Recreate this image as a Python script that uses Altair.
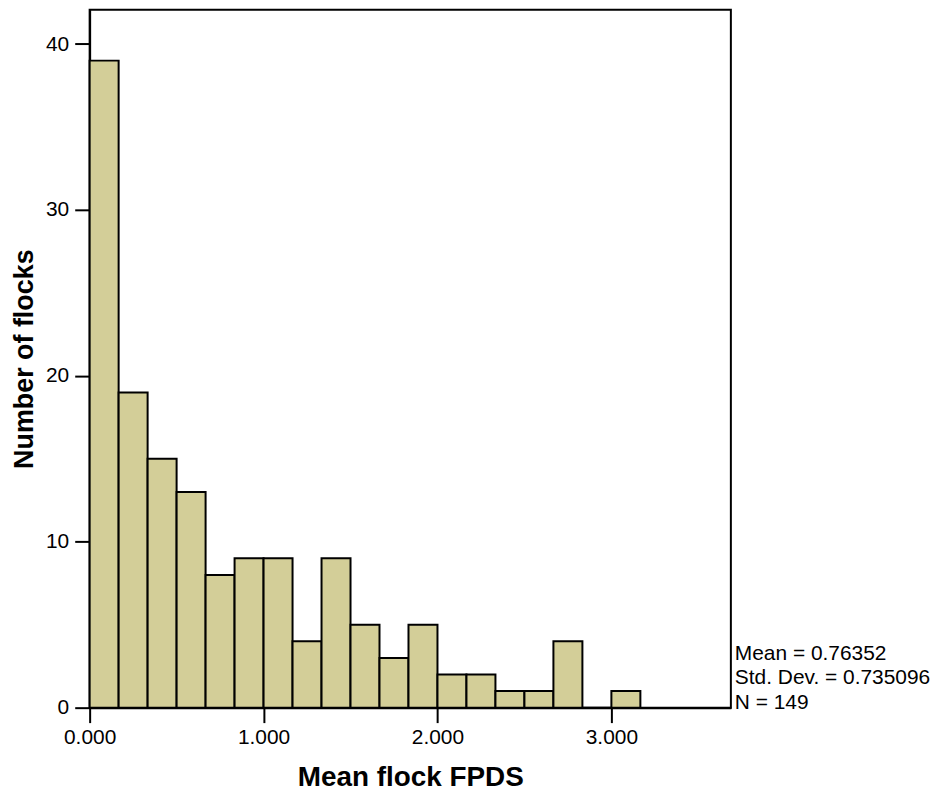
import altair as alt
import pandas as pd

# Histogram data (bin width = 1/6)
bin_width = 1.0 / 6.0
counts = [39, 19, 15, 13, 8, 9, 9, 4, 9, 5, 3, 5, 2, 2, 1, 1, 4, 0, 1]
bin_starts = [i * bin_width for i in range(len(counts))]
bin_ends = [s + bin_width for s in bin_starts]

x_ticks = [0, 1, 2, 3]
y_ticks = [0, 10, 20, 30, 40]
stats_lines = ["Mean = 0.76352", "Std. Dev. = 0.735096", "N = 149"]

df = pd.DataFrame({"start": bin_starts, "end": bin_ends, "count": counts})

W, H = 644, 701
FONT = "Liberation Sans"

x_scale = alt.Scale(domain=[0, 3.687], nice=False, zero=False)
y_scale = alt.Scale(domain=[0, 42.07], nice=False)

bars = alt.Chart(df).mark_rect(
    fill="#D3CE98", stroke="black", strokeWidth=2
).encode(
    x=alt.X("start:Q", scale=x_scale,
            axis=alt.Axis(title="Mean flock FPDS", values=x_ticks, format=".3f",
                          grid=False, tickSize=15, tickWidth=2, tickColor="black",
                          domainColor="black", domainWidth=2,
                          labelFontSize=21, labelFont=FONT, labelColor="black",
                          labelPadding=4, labelFlush=False,
                          titleFontSize=28, titleFont=FONT, titleFontWeight="bold",
                          titleColor="black", titlePadding=16)),
    x2="end:Q",
    y=alt.Y("count:Q", scale=y_scale,
            axis=alt.Axis(title="Number of flocks", values=y_ticks,
                          grid=False, tickSize=15, tickWidth=2, tickColor="black",
                          domainColor="black", domainWidth=2,
                          labelFontSize=21, labelFont=FONT, labelColor="black",
                          labelPadding=6, labelFlush=False,
                          titleFontSize=27, titleFont=FONT, titleFontWeight="bold",
                          titleColor="black", titlePadding=7)),
)

stats = alt.Chart(pd.DataFrame({"a": [0]})).mark_text(
    align="left", baseline="alphabetic", fontSize=21, font=FONT,
    color="black", lineHeight=24.5
).encode(
    x=alt.value(W + 4),
    y=alt.value(653),
    text=alt.value(stats_lines),
)

chart = alt.layer(bars, stats).properties(
    width=W, height=H,
    padding={"left": 2, "top": 0, "right": 0, "bottom": 0},
).configure(
    background="white"
).configure_view(
    stroke="black", strokeWidth=2
)

chart.save("out.html", embed_options={"renderer": "svg", "actions": False})
